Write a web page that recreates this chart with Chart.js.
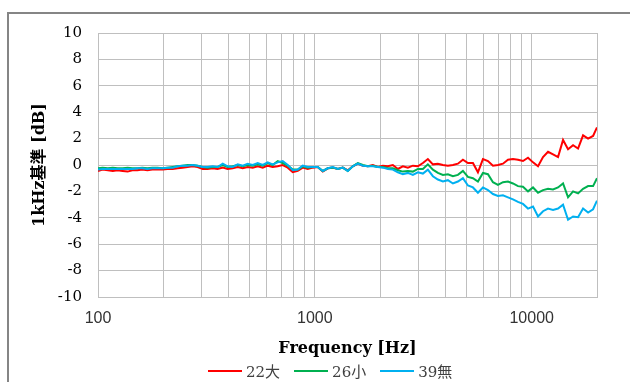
<!DOCTYPE html>
<html>
<head>
<meta charset="utf-8">
<script src="https://cdn.jsdelivr.net/npm/chart.js@4.4.1/dist/chart.umd.min.js"></script>
<style>
    body { margin: 0; width: 630px; height: 382px; overflow: hidden; background: #fff; position: relative; }
    #frame { position: absolute; left: 7px; top: 12px; width: 700px; height: 500px; border: 2px solid #858585; }
    #wrap { position: absolute; left: 0; top: 0; width: 630px; height: 382px; }
    #legend { position: absolute; left: 208px; top: 360px; display: flex; gap: 14px; font: 15px 'DejaVu Serif', 'Noto Sans CJK JP', serif; color: #404040; }
    #legend span.item { display: flex; align-items: center; }
    #legend i { display: inline-block; width: 34px; height: 2px; margin-right: 4px; }
</style>
</head>
<body>
<div id="frame"></div>
<div id="wrap"><canvas id="chart" width="630" height="382"></canvas></div>
<div id="legend"></div>
<script>
    // frequency points (Hz)
    const freqs = [100, 105, 111, 117, 123, 130, 137, 144, 152, 160, 169, 178, 188, 199, 209, 221, 233, 245, 259, 273,
        288, 304, 320, 338, 356, 376, 396, 418, 441, 465, 490, 517, 545, 575, 606, 639, 674, 711, 750, 791,
        834, 879, 927, 978, 1031, 1088, 1147, 1210, 1276, 1345, 1419, 1496, 1578, 1664, 1755, 1851, 1952, 2058, 2171, 2289,
        2414, 2546, 2685, 2831, 2986, 3149, 3320, 3502, 3693, 3894, 4107, 4331, 4567, 4817, 5080, 5357, 5649, 5958, 6283, 6626,
        6987, 7369, 7771, 8195, 8642, 9114, 9614, 10139, 10692, 11275, 11891, 12540, 13224, 13946, 14707, 15510, 16356, 17249, 18191, 19184,
        20000];

    // dB relative to 1kHz
    const red22 = [-0.45, -0.35, -0.4, -0.45, -0.4, -0.45, -0.5, -0.4, -0.4, -0.35, -0.4, -0.35, -0.35, -0.35, -0.3, -0.3, -0.25, -0.2, -0.15, -0.1,
        -0.15, -0.3, -0.3, -0.25, -0.3, -0.2, -0.3, -0.25, -0.15, -0.25, -0.15, -0.2, -0.1, -0.2, -0.05, -0.15, -0.1, 0.0, -0.2, -0.55,
        -0.45, -0.2, -0.3, -0.2, -0.15, -0.5, -0.25, -0.2, -0.3, -0.2, -0.4, -0.1, 0.1, -0.05, -0.1, 0.0, -0.15, -0.05, -0.1, 0.0,
        -0.3, -0.1, -0.2, -0.05, -0.1, 0.15, 0.45, 0.05, 0.1, 0.0, -0.05, 0.0, 0.1, 0.4, 0.15, 0.15, -0.55, 0.45, 0.3, -0.05,
        0.0, 0.1, 0.4, 0.45, 0.4, 0.3, 0.55, 0.2, -0.1, 0.6, 1.0, 0.8, 0.6, 1.9, 1.2, 1.5, 1.25, 2.25, 2.0, 2.2,
        2.85];
    const green26 = [-0.25, -0.2, -0.25, -0.2, -0.25, -0.25, -0.2, -0.25, -0.25, -0.2, -0.25, -0.2, -0.2, -0.25, -0.2, -0.15, -0.1, -0.05, 0.0, 0.0,
        -0.05, -0.15, -0.2, -0.15, -0.15, 0.0, -0.15, -0.1, 0.0, -0.1, 0.0, -0.05, 0.05, -0.05, 0.15, 0.0, 0.3, 0.15, -0.05, -0.35,
        -0.35, -0.1, -0.2, -0.15, -0.15, -0.45, -0.25, -0.2, -0.3, -0.2, -0.45, -0.1, 0.15, 0.0, -0.1, -0.05, -0.15, -0.15, -0.25, -0.25,
        -0.4, -0.5, -0.45, -0.5, -0.3, -0.3, 0.05, -0.35, -0.6, -0.75, -0.7, -0.85, -0.75, -0.45, -0.9, -1.0, -1.25, -0.6, -0.7, -1.3,
        -1.5, -1.3, -1.25, -1.4, -1.6, -1.65, -2.0, -1.7, -2.1, -1.9, -1.8, -1.85, -1.7, -1.4, -2.45, -2.0, -2.15, -1.8, -1.6, -1.6,
        -1.0];
    const blue39 = [-0.35, -0.3, -0.3, -0.3, -0.3, -0.3, -0.3, -0.3, -0.25, -0.25, -0.3, -0.25, -0.25, -0.25, -0.2, -0.2, -0.1, -0.05, -0.05, 0.0,
        -0.05, -0.15, -0.15, -0.1, -0.15, 0.1, -0.1, -0.15, 0.05, -0.05, 0.1, 0.0, 0.15, 0.0, 0.2, 0.05, 0.2, 0.3, 0.0, -0.4,
        -0.35, -0.05, -0.15, -0.15, -0.15, -0.45, -0.25, -0.15, -0.3, -0.2, -0.45, -0.1, 0.1, -0.05, -0.1, -0.1, -0.15, -0.2, -0.3, -0.35,
        -0.55, -0.7, -0.6, -0.75, -0.55, -0.65, -0.35, -0.85, -1.1, -1.25, -1.15, -1.4, -1.25, -1.0, -1.55, -1.7, -2.1, -1.7, -1.9, -2.2,
        -2.35, -2.3, -2.45, -2.6, -2.8, -2.95, -3.3, -3.15, -3.9, -3.5, -3.3, -3.4, -3.3, -3.0, -4.15, -3.9, -3.95, -3.3, -3.6, -3.35,
        -2.7];

    const seriesNames = ['22大', '26小', '39無'];
    const seriesColors = ['#ff0000', '#00b050', '#00b0f0'];
    const seriesValues = [red22, green26, blue39];

    const yTicks = [-10, -8, -6, -4, -2, 0, 2, 4, 6, 8, 10];
    const xGridTicks = [100, 200, 300, 400, 500, 600, 700, 800, 900,
        1000, 2000, 3000, 4000, 5000, 6000, 7000, 8000, 9000, 10000, 20000];
    const xLabelTicks = [100, 1000, 10000];

    const gridColor = '#bfbfbf';

    const datasets = seriesValues.map((vals, i) => ({
        label: seriesNames[i],
        data: vals.map((v, k) => ({ x: freqs[k], y: v })),
        borderColor: seriesColors[i],
        backgroundColor: seriesColors[i],
        borderWidth: 2,
        pointRadius: 0,
        tension: 0,
        order: 3 - i
    }));

    new Chart(document.getElementById('chart'), {
        type: 'line',
        data: { datasets: datasets },
        options: {
            responsive: false,
            animation: false,
            layout: { padding: { top: 33, right: 33, bottom: 23, left: 0 } },
            plugins: { legend: { display: false }, tooltip: { enabled: false } },
            scales: {
                x: {
                    type: 'logarithmic',
                    min: 100,
                    max: 20000,
                    afterBuildTicks: (scale) => { scale.ticks = xGridTicks.map(v => ({ value: v })); },
                    afterFit: (scale) => { scale.height = 62; },
                    ticks: {
                        autoSkip: false,
                        maxRotation: 0,
                        padding: 12,
                        color: '#333',
                        font: { family: 'Liberation Sans', size: 16 },
                        callback: (v) => xLabelTicks.includes(v) ? String(v) : ''
                    },
                    grid: { color: gridColor, drawTicks: false },
                    border: { color: gridColor },
                    title: {
                        display: true,
                        text: 'Frequency [Hz]',
                        color: '#000',
                        font: { family: "'DejaVu Serif', 'Noto Sans CJK JP'", size: 16, weight: 'bold' },
                        padding: { top: 0, bottom: 1 }
                    }
                },
                y: {
                    min: -10,
                    max: 10,
                    afterBuildTicks: (scale) => { scale.ticks = yTicks.map(v => ({ value: v })); },
                    afterFit: (scale) => { scale.width = 98; },
                    ticks: {
                        padding: 16,
                        color: '#000',
                        font: { family: 'DejaVu Serif', size: 15 }
                    },
                    grid: { color: gridColor, drawTicks: false },
                    border: { color: gridColor },
                    title: {
                        display: true,
                        text: '1kHz基準 [dB]',
                        color: '#000',
                        font: { family: "'DejaVu Serif', 'Noto Sans CJK JP'", size: 16, weight: 'bold' },
                        padding: { top: 30, bottom: 0 }
                    }
                }
            }
        }
    });

    // legend as plain html
    const legend = document.getElementById('legend');
    seriesNames.forEach((name, i) => {
        const item = document.createElement('span');
        item.className = 'item';
        item.innerHTML = '<i style="background:' + seriesColors[i] + '"></i>' + name;
        legend.appendChild(item);
    });
</script>
</body>
</html>
